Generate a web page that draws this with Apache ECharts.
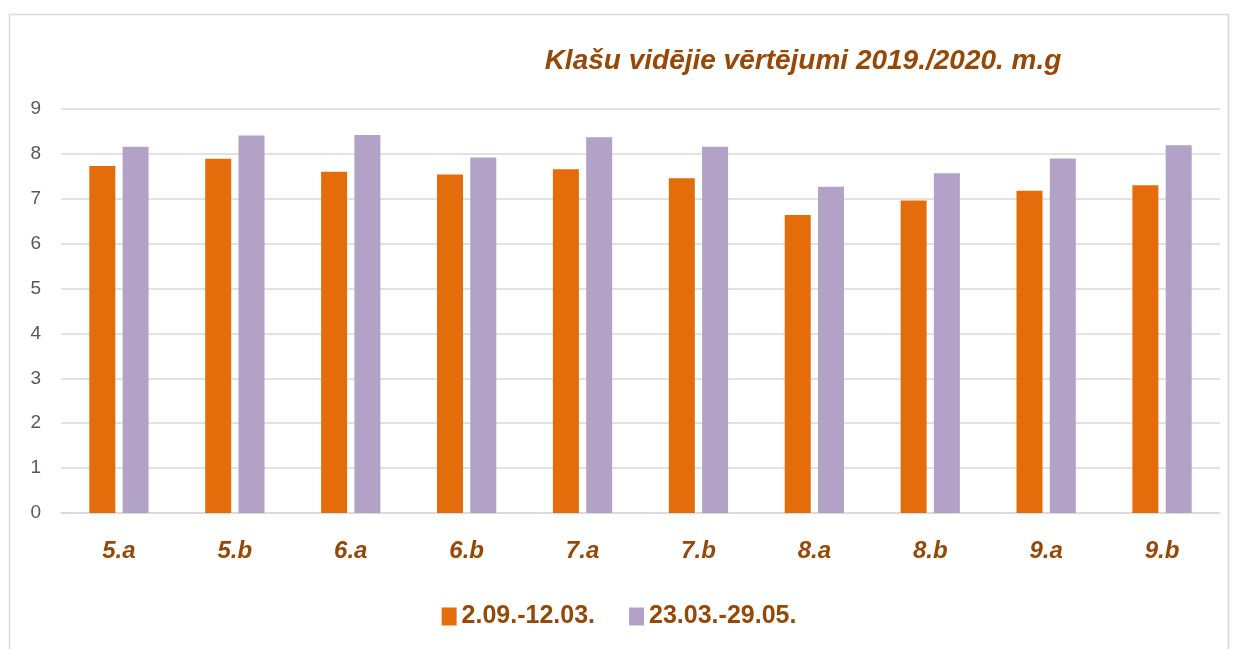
<!DOCTYPE html>
<html>
<head>
<meta charset="utf-8">
<script src="https://cdn.jsdelivr.net/npm/echarts@6/dist/echarts.min.js"></script>
<style>
  html, body { margin: 0; padding: 0; background: #fff; }
  #chart { width: 1238px; height: 649px; }
</style>
</head>
<body>
<div id="chart"></div>
<script>
// klases
const classes = ['5.a', '5.b', '6.a', '6.b', '7.a', '7.b', '8.a', '8.b', '9.a', '9.b'];
const seriesNames = ['2.09.-12.03.', '23.03.-29.05.'];
// vidējie vērtējumi pa periodiem
const firstPeriod = [7.73, 7.89, 7.60, 7.54, 7.66, 7.46, 6.64, 6.96, 7.18, 7.30];
const secondPeriod = [8.16, 8.41, 8.42, 7.92, 8.37, 8.16, 7.27, 7.57, 7.90, 8.19];
const yTicks = [0, 1, 2, 3, 4, 5, 6, 7, 8, 9];

const brown = '#974806';
const fontFam = '"Liberation Sans", Arial, sans-serif';

var chart = echarts.init(document.getElementById('chart'));
const option = {
  backgroundColor: '#fff',
  animation: false,
  title: {
    text: 'Klašu vidējie vērtējumi 2019./2020. m.g',
    left: 798,
    top: 42,
    textAlign: 'center',
    textStyle: {
      color: brown,
      fontSize: 28,
      fontWeight: 'bold',
      fontStyle: 'italic',
      fontFamily: fontFam
    }
  },
  graphic: [
    {
      type: 'rect',
      shape: { x: 9.5, y: 14.5, width: 1219, height: 700 },
      style: { fill: 'none', stroke: '#d9d9d9', lineWidth: 1.5 },
      silent: true
    }
  ],
  legend: {
    data: seriesNames,
    left: 'center',
    top: 599,
    itemWidth: 15,
    itemHeight: 18,
    itemGap: 34,
    icon: 'rect',
    textStyle: {
      color: brown,
      fontSize: 25,
      fontWeight: 'bold',
      fontFamily: fontFam
    }
  },
  grid: {
    left: 61,
    right: 18,
    top: 109,
    bottom: 136
  },
  xAxis: {
    type: 'category',
    data: classes,
    axisLine: { lineStyle: { color: '#d9d9d9', width: 1.5 } },
    axisTick: { show: false },
    axisLabel: {
      margin: 26,
      color: brown,
      fontSize: 24,
      fontWeight: 'bold',
      fontStyle: 'italic',
      fontFamily: fontFam
    }
  },
  yAxis: {
    type: 'value',
    min: yTicks[0],
    max: yTicks[yTicks.length - 1],
    interval: 1,
    axisLine: { show: false },
    axisTick: { show: false },
    splitLine: { lineStyle: { color: '#d9d9d9', width: 1.5 } },
    axisLabel: {
      margin: 20,
      color: '#595959',
      fontSize: 19,
      fontFamily: fontFam
    }
  },
  series: [
    {
      name: seriesNames[0],
      type: 'bar',
      data: firstPeriod,
      barWidth: 26,
      barGap: '28%',
      itemStyle: { color: '#e46c0a' }
    },
    {
      name: seriesNames[1],
      type: 'bar',
      data: secondPeriod,
      barWidth: 26,
      itemStyle: { color: '#b2a2c7' }
    }
  ]
};
chart.setOption(option);
window.addEventListener('resize', function () {
  chart.resize();
});
</script>
</body>
</html>
